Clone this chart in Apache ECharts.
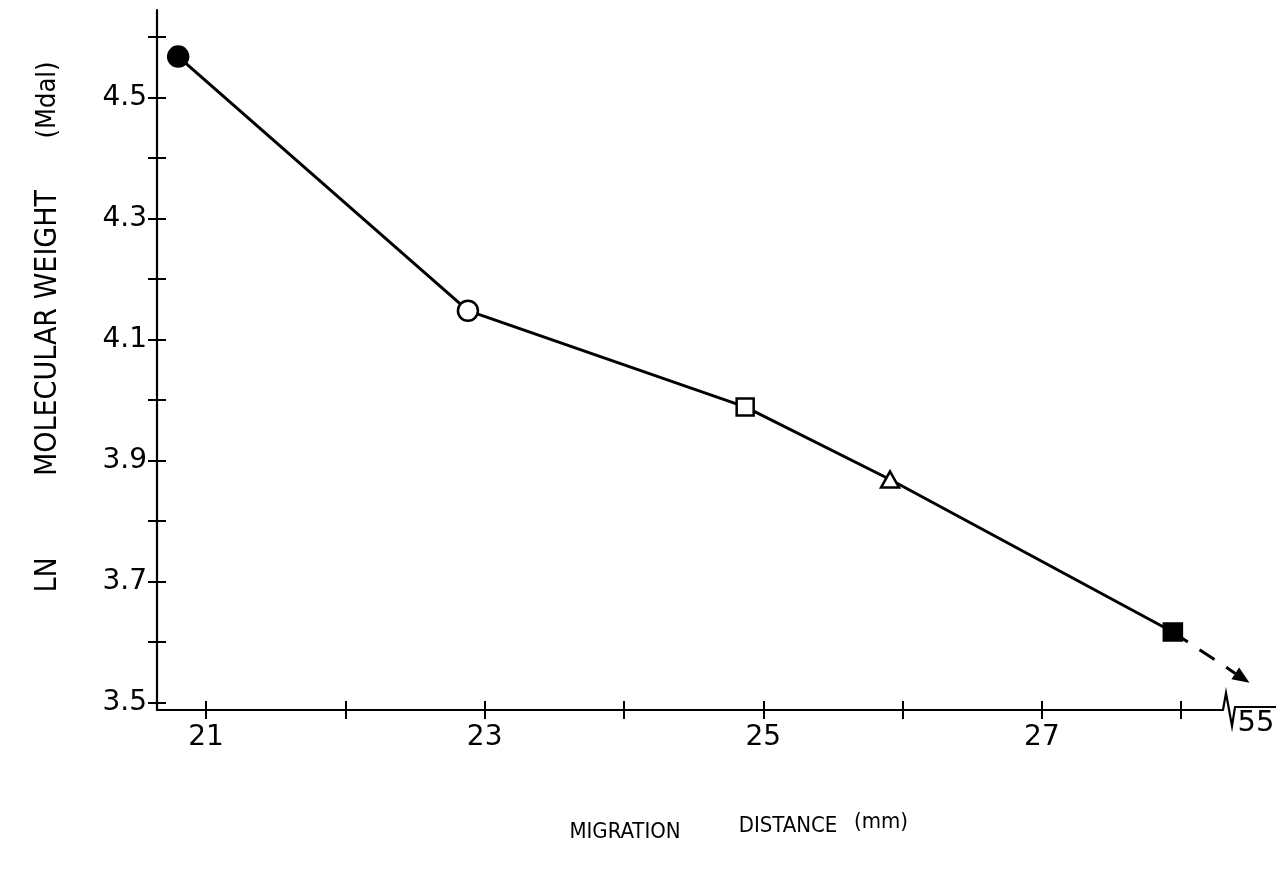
<!DOCTYPE html>
<html><head><meta charset="utf-8">
<script src="https://cdn.jsdelivr.net/npm/echarts@6/dist/echarts.min.js"></script>
<style>html,body{margin:0;padding:0;background:#fff}#c{width:1282px;height:873px}</style>
</head><body><div id="c"></div>
<script>
// ---- data ----
const distance = [20.80, 22.88, 24.87, 25.91, 27.94];   // migration distance (mm)
const lnMW     = [4.568, 4.148, 3.989, 3.869, 3.617];   // LN molecular weight (Mdal)
const arrowTip = [28.49, 3.533];                         // extrapolation arrow end
const xTicks  = [21, 22, 23, 24, 25, 26, 27, 28];
const xLabels = [21, 23, 25, 27];
const yTicks  = [3.5, 3.6, 3.7, 3.8, 3.9, 4.0, 4.1, 4.2, 4.3, 4.4, 4.5, 4.6];
const yLabels = [3.5, 3.7, 3.9, 4.1, 4.3, 4.5];
const breakLabel = '55';
const xTitle = ['MIGRATION', 'DISTANCE', '(mm)'];
const yTitle = ['LN', 'MOLECULAR WEIGHT', '(Mdal)'];

// ---- axis ranges ----
const X_MIN = 20.648, X_MAX = 28.30, Y_MIN = 3.488, Y_MAX = 4.645;

// ---- styles ----
const markerStyles = [
  { symbol: 'circle',   size: 20,       fill: '#000' },
  { symbol: 'circle',   size: 20,       fill: '#fff' },
  { symbol: 'rect',     size: 17,       fill: '#fff' },
  { symbol: 'triangle', size: [18, 16], fill: '#fff' },
  { symbol: 'rect',     size: [18, 17], fill: '#000' }
];
const INK = '#000';
const numFont = 'DejaVu Sans';
const titleFont = '"Liberation Sans Narrow", "DejaVu Sans Condensed", "Liberation Sans", sans-serif';

const chart = echarts.init(document.getElementById('c'), null, { renderer: 'canvas' });

const lineData = distance.map((x, i) => ({
  value: [x, lnMW[i]],
  symbol: markerStyles[i].symbol,
  symbolSize: markerStyles[i].size,
  itemStyle: { color: markerStyles[i].fill, borderColor: INK, borderWidth: 2.5 }
}));

const last = distance.length - 1;

function tickAxis(dimMin, dimMax, ticks, inside) {
  return {
    type: 'value', min: dimMin, max: dimMax,
    axisLine: { show: !inside, onZero: false, lineStyle: { color: INK, width: 2.2 } },
    axisTick: { show: true, inside: inside, customValues: ticks, length: 9, lineStyle: { color: INK, width: 2 } },
    splitLine: { show: false },
    axisLabel: { show: false }
  };
}

const xMain = tickAxis(X_MIN, X_MAX, xTicks, false);
xMain.position = 'bottom';
xMain.axisLabel = { show: true, customValues: xLabels, fontSize: 28, fontFamily: numFont, color: INK, margin: 14 };
const xInner = tickAxis(X_MIN, X_MAX, xTicks, true);
xInner.position = 'bottom';

const yMain = tickAxis(Y_MIN, Y_MAX, yTicks, false);
yMain.position = 'left';
yMain.axisLabel = { show: true, customValues: yLabels, fontSize: 28, fontFamily: numFont, color: INK, margin: 10,
  formatter: v => v.toFixed(1) };
const yInner = tickAxis(Y_MIN, Y_MAX, yTicks, true);
yInner.position = 'left';

chart.setOption({
  backgroundColor: '#fff',
  animation: false,
  grid: { left: 157, right: 59, top: 10, bottom: 163, containLabel: false, outerBoundsMode: 'none' },
  xAxis: [xMain, xInner],
  yAxis: [yMain, yInner],
  series: [
    {
      type: 'line', xAxisIndex: 0, yAxisIndex: 0,
      data: lineData,
      lineStyle: { color: INK, width: 3 },
      z: 5, clip: false
    },
    {
      // dashed extrapolation arrow from the last point
      type: 'custom', xAxisIndex: 0, yAxisIndex: 0, clip: false, z: 4,
      data: [[distance[last], lnMW[last], arrowTip[0], arrowTip[1]]],
      encode: { x: [0, 2], y: [1, 3] },
      renderItem: function (params, api) {
        const p0 = api.coord([api.value(0), api.value(1)]);
        const p1 = api.coord([api.value(2), api.value(3)]);
        const dx = p1[0] - p0[0], dy = p1[1] - p0[1];
        const len = Math.sqrt(dx * dx + dy * dy);
        const ux = dx / len, uy = dy / len;
        const headL = 17, headW = 7;
        const bx = p1[0] - ux * headL, by = p1[1] - uy * headL;
        return {
          type: 'group',
          children: [
            { type: 'line', shape: { x1: p0[0], y1: p0[1], x2: bx, y2: by },
              style: { stroke: INK, lineWidth: 3, lineDash: [18, 14] } },
            { type: 'polygon', shape: { points: [
                [p1[0], p1[1]],
                [bx - uy * headW, by + ux * headW],
                [bx + uy * headW, by - ux * headW]] },
              style: { fill: INK } }
          ]
        };
      }
    },
    {
      // axis break mark and its label at the end of the x axis
      type: 'custom', xAxisIndex: 0, yAxisIndex: 0, clip: false, z: 4,
      data: [[X_MAX, Y_MIN]],
      renderItem: function (params, api) {
        const p = api.coord([api.value(0), api.value(1)]);
        return {
          type: 'group',
          children: [
            { type: 'polyline', shape: { points: [
                [p[0], p[1]], [p[0] + 3, p[1] - 17], [p[0] + 9, p[1] + 16],
                [p[0] + 12, p[1] - 3], [p[0] + 53, p[1] - 3]] },
              style: { stroke: INK, lineWidth: 2.2, fill: null } },
            { type: 'text', x: p[0] + 33, y: p[1] - 1,
              style: { text: breakLabel, fill: INK, font: '29px ' + numFont, align: 'center', verticalAlign: 'top' } }
          ]
        };
      }
    }
  ],
  graphic: [
    { type: 'text', x: 48, y: 575, rotation: Math.PI / 2,
      style: { text: yTitle[0], fill: INK, font: '30px ' + titleFont, align: 'center', verticalAlign: 'middle' } },
    { type: 'text', x: 48, y: 333, rotation: Math.PI / 2,
      style: { text: yTitle[1], fill: INK, font: '30px ' + titleFont, align: 'center', verticalAlign: 'middle' } },
    { type: 'text', x: 48, y: 100, rotation: Math.PI / 2,
      style: { text: yTitle[2], fill: INK, font: '27px ' + titleFont, align: 'center', verticalAlign: 'middle' } },
    { type: 'text', x: 625, y: 832,
      style: { text: xTitle[0], fill: INK, font: '22px ' + titleFont, align: 'center', verticalAlign: 'middle' } },
    { type: 'text', x: 788, y: 826,
      style: { text: xTitle[1], fill: INK, font: '22px ' + titleFont, align: 'center', verticalAlign: 'middle' } },
    { type: 'text', x: 881, y: 822,
      style: { text: xTitle[2], fill: INK, font: '22px ' + titleFont, align: 'center', verticalAlign: 'middle' } }
  ]
});
</script>
</body></html>
